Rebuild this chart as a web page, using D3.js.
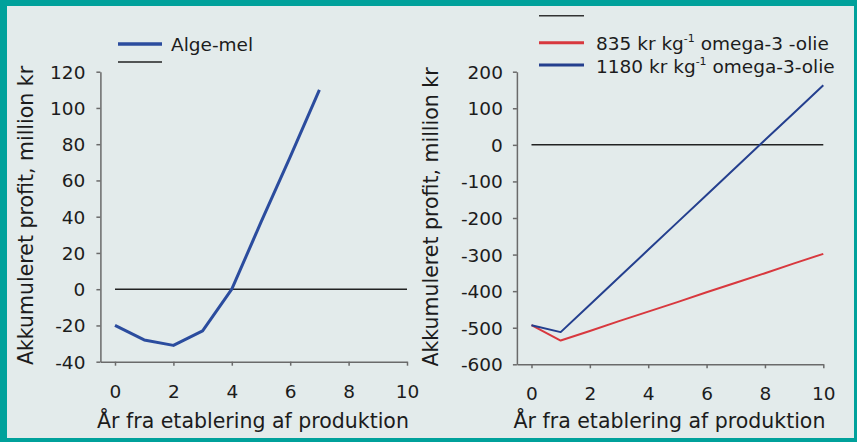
<!DOCTYPE html>
<html><head><meta charset="utf-8">
<script src="https://cdn.jsdelivr.net/npm/d3@7"></script>
<style>
body{margin:0;background:#00a19b}
svg{display:block}
text{font-family:"DejaVu Sans",Verdana,sans-serif;fill:#1c1c1c}
</style>
</head><body><svg width="857" height="442"></svg>
<script>
// ---- data ----
const yearsL = [0,1,2,3,4,5,6,7];
const algeMel = [-20,-28,-31,-23,0,37,73,110];
const yearsR = [0,1,2,3,4,5,6,7,8,9,10];
const olie835 = [-493,-535,-509,-482,-456,-430,-403,-377,-351,-324,-298];
const olie1180 = [-493,-512,-437,-362,-287,-212,-137,-62,13,88,163];
const zeroX = [0,10];
const xTicks = [0,2,4,6,8,10];
const yTicksL = [-40,-20,0,20,40,60,80,100,120];
const yTicksR = [-600,-500,-400,-300,-200,-100,0,100,200];
const xTitle = "År fra etablering af produktion";
const yTitle = "Akkumuleret profit, million kr";
const legendL = ["Alge-mel", ""];
const legendR = ["", "835 kr kg", "1180 kr kg"];
const legendRSuffix = ["", " omega-3 -olie", " omega-3-olie"];

const svg = d3.select("svg");
svg.append("rect").attr("x",7).attr("y",6).attr("width",847).attr("height",432).attr("fill","#e3ebeb");

const axisCol = "#6a6a6a";
const fmt = d => String(d);
function styleAxis(g){
  g.selectAll("path.domain").attr("stroke",axisCol).attr("stroke-width",1.5);
  g.selectAll(".tick line").attr("stroke",axisCol).attr("stroke-width",1.5);
  g.selectAll("text").style("font-family","DejaVu Sans, Verdana, sans-serif").attr("font-size",18.5).attr("fill","#1c1c1c");
}

function panel(cfg){
  const x = d3.scaleLinear().domain([-0.5,10]).range(cfg.xr);
  const y = d3.scaleLinear().domain(cfg.yd).range(cfg.yr);
  const gx = svg.append("g").attr("transform",`translate(0,${cfg.yr[0]})`)
    .call(d3.axisBottom(x).tickValues(xTicks).tickSize(4).tickSizeOuter(0).tickFormat(fmt));
  styleAxis(gx);
  gx.selectAll("text").attr("y",36).attr("dy",0);
  const gy = svg.append("g").attr("transform",`translate(${cfg.xr[0]},0)`)
    .call(d3.axisLeft(y).tickValues(cfg.yt).tickSize(4).tickSizeOuter(0).tickPadding(cfg.pad).tickFormat(fmt));
  styleAxis(gy);
  gy.selectAll("text").attr("dy","0.35em");
  // zero line
  svg.append("path").datum(zeroX)
    .attr("d", d3.line().x(d=>x(d)).y(()=>y(0)))
    .attr("stroke","#222").attr("stroke-width",1.5).attr("fill","none");
  cfg.series.forEach(s=>{
    svg.append("path").datum(s.xs.map((d,i)=>[d,s.vals[i]]))
      .attr("d", d3.line().x(d=>x(d[0])).y(d=>y(d[1])))
      .attr("stroke",s.color).attr("stroke-width",s.w).attr("fill","none")
      .attr("stroke-linejoin","round");
  });
  svg.append("text").attr("x",cfg.xtx).attr("y",428).attr("text-anchor","middle")
    .attr("font-size",20.5).text(xTitle);
  svg.append("text").attr("transform",`translate(${cfg.ytx},${cfg.yty}) rotate(-90)`)
    .attr("text-anchor","middle").attr("font-size",20.5).text(yTitle);
}

panel({xr:[100.4,407], yd:[-40,120], yr:[361.7,71.7], yt:yTicksL, pad:11,
  xtx:253, ytx:33, yty:215.5,
  series:[{xs:yearsL, vals:algeMel, color:"#2b4c9e", w:3}]});
panel({xr:[516.9,823.3], yd:[-600,200], yr:[364.3,71.7], yt:yTicksR, pad:10,
  xtx:669.5, ytx:438, yty:217,
  series:[{xs:yearsR, vals:olie835, color:"#d8383e", w:2},
          {xs:yearsR, vals:olie1180, color:"#243f8e", w:2}]});

// legends
const legL = [{y:44, color:"#2b4c9e", w:3.5},{y:62, color:"#222", w:1.5}];
legL.forEach((l,i)=>{
  svg.append("line").attr("x1",118).attr("x2",162).attr("y1",l.y).attr("y2",l.y)
    .attr("stroke",l.color).attr("stroke-width",l.w);
  if(legendL[i]) svg.append("text").attr("x",171).attr("y",l.y+6.5).attr("font-size",18.5).text(legendL[i]);
});
const legR = [{y:15.7, color:"#333", w:1.5},{y:42.7, color:"#d8383e", w:3},{y:65, color:"#243f8e", w:3}];
legR.forEach((l,i)=>{
  svg.append("line").attr("x1",539).attr("x2",584).attr("y1",l.y).attr("y2",l.y)
    .attr("stroke",l.color).attr("stroke-width",l.w);
  if(legendR[i]){
    const t = svg.append("text").attr("x",596).attr("y",l.y+7.5).attr("font-size",18.5);
    t.append("tspan").text(legendR[i]);
    t.append("tspan").attr("font-size",11).attr("dy",-8).text("-1");
    t.append("tspan").attr("dy",8).text(legendRSuffix[i]);
  }
});
</script>
</body></html>
